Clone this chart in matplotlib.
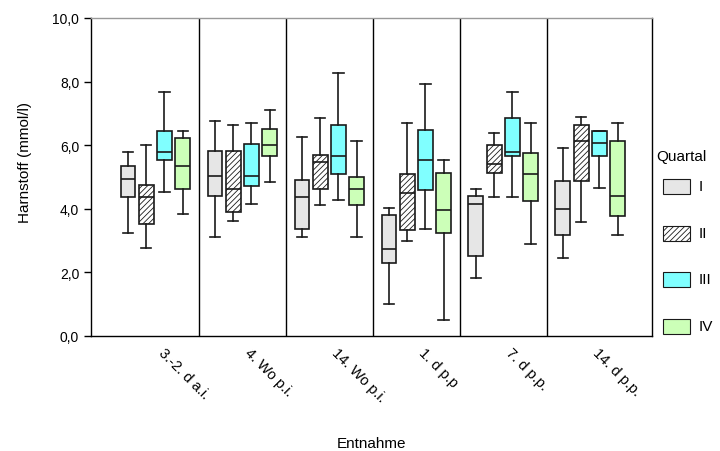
import numpy as np
import matplotlib.pyplot as plt
import matplotlib.transforms as mtransforms
from matplotlib.patches import Rectangle

plt.rcParams['font.family'] = ['Liberation Sans', 'DejaVu Sans']
plt.rcParams['hatch.linewidth'] = 0.6
plt.rcParams['hatch.color'] = '#555555'

# sampling times (x categories)
entnahme = ['3.-2. d a.i.', '4. Wo p.i.', '14. Wo p.i.', '1. d p.p', '7. d p.p.', '14. d p.p.']
quartale = ['I', 'II', 'III', 'IV']

# box statistics per quartal (rows I..IV), one value per sampling time
whis_lo = [[3.24, 3.11, 3.11, 1.01, 1.81, 2.44],
           [2.77, 3.62, 4.12, 2.99, 4.36, 3.57],
           [4.54, 4.16, 4.29, 3.36, 4.36, 4.66],
           [3.83, 4.83, 3.11, 0.50, 2.89, 3.19]]
q1 = [[4.36, 4.41, 3.36, 2.31, 2.52, 3.19],
      [3.52, 3.91, 4.62, 3.32, 5.12, 4.86],
      [5.54, 4.71, 5.08, 4.58, 5.67, 5.67],
      [4.61, 5.67, 4.11, 3.24, 4.25, 3.78]]
median = [[4.95, 5.04, 4.36, 2.74, 4.16, 3.98],
          [4.36, 4.61, 5.46, 4.50, 5.41, 6.12],
          [5.80, 5.04, 5.67, 5.53, 5.80, 6.08],
          [5.34, 6.00, 4.61, 3.95, 5.08, 4.41]]
q3 = [[5.34, 5.83, 4.91, 3.81, 4.40, 4.86],
      [4.75, 5.83, 5.70, 5.08, 6.00, 6.63],
      [6.46, 6.04, 6.63, 6.47, 6.85, 6.46],
      [6.22, 6.50, 4.99, 5.12, 5.74, 6.12]]
whis_hi = [[5.80, 6.75, 6.26, 4.03, 4.61, 5.92],
           [6.01, 6.64, 6.85, 6.71, 6.37, 6.88],
           [7.68, 6.71, 8.27, 7.92, 7.68, 6.46],
           [6.46, 7.10, 6.12, 5.53, 6.71, 6.71]]

colors = ['#e6e6e6', 'white', '#80ffff', '#ccffb8']
hatches = [None, '//////', None, None]
offsets = [-0.315, -0.105, 0.105, 0.315]

W, H = 720, 452
fig = plt.figure(figsize=(7.2, 4.52), dpi=100)
ax = fig.add_axes([91/W, 1 - 337/H, 561/W, 318/H])

x = np.arange(len(entnahme))
for k in range(4):
    stats = []
    for i in range(len(entnahme)):
        stats.append({'whislo': whis_lo[k][i], 'q1': q1[k][i], 'med': median[k][i],
                      'q3': q3[k][i], 'whishi': whis_hi[k][i], 'fliers': []})
    ax.bxp(stats, positions=x + offsets[k], widths=0.17, capwidths=0.12,
           patch_artist=True, showfliers=False,
           boxprops=dict(facecolor=colors[k], edgecolor='#1a1a1a', linewidth=1.2,
                         hatch=hatches[k]),
           medianprops=dict(color='#1a1a1a', linewidth=1.2),
           whiskerprops=dict(color='#1a1a1a', linewidth=1.2),
           capprops=dict(color='#1a1a1a', linewidth=1.2))

# group separators
for s in range(len(entnahme) - 1):
    ax.axvline(s + 0.5, color='black', linewidth=1)

ax.set_xlim(-0.74, 5.71)
ax.set_ylim(0, 10)
ax.set_yticks([0, 2, 4, 6, 8, 10])
ax.set_yticklabels(['0,0', '2,0', '4,0', '6,0', '8,0', '10,0'], fontsize=10)
ax.set_xticks([])
ax.tick_params(axis='y', length=5, width=1, direction='out')
for sp in ax.spines.values():
    sp.set_linewidth(1)
ax.spines['top'].set_color('#999999')

# rotated category labels below the axis
lab_trans = ax.get_xaxis_transform() + mtransforms.ScaledTranslation(
    10/100, -9/100, fig.dpi_scale_trans)
for i, name in enumerate(entnahme):
    ax.text(x[i], 0, name, transform=lab_trans, rotation=-45, ha='left', va='top',
            rotation_mode='anchor', fontsize=10.5)

ax.set_ylabel('Harnstoff (mmol/l)', fontsize=11)
ax.yaxis.set_label_coords(-0.105, 0.55)
ax.set_xlabel('Entnahme', fontsize=11)
ax.xaxis.set_label_coords(0.5, -0.315)

# legend drawn at fixed figure positions
fig.text(656/W, 1 - 157/H, 'Quartal', fontsize=11, ha='left', va='center')
legend_y = [187, 234, 280, 327]
for k in range(4):
    yc = legend_y[k]
    fig.add_artist(Rectangle((663/W, 1 - (yc + 7.5)/H), 27/W, 15/H,
                             transform=fig.transFigure, facecolor=colors[k],
                             edgecolor='#1a1a1a', linewidth=0.8, hatch=hatches[k]))
    fig.text(699/W, 1 - yc/H, quartale[k], fontsize=11, ha='left', va='center')

fig.savefig('out.png', dpi=100)
